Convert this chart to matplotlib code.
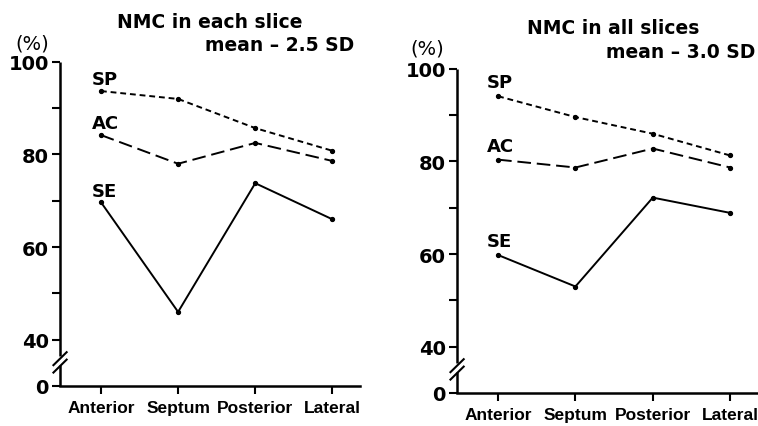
"""
NMC per region: two panels (each slice / all slices), broken y axis at 0-40.
Output: out.png
"""

import matplotlib.pyplot as plt

plt.rcParams["font.family"] = ["DejaVu Sans"]
plt.rcParams["font.weight"] = "bold"

# ── Data ──────────────────────────────────────────────────────────────────────

REGIONS = ["Anterior", "Septum", "Posterior", "Lateral"]

EACH_SP = [93.7, 92.0, 85.7, 80.8]
EACH_AC = [84.2, 78.0, 82.5, 78.6]
EACH_SE = [69.7, 46.0, 73.8, 66.0]

ALL_SP = [94.1, 89.6, 86.0, 81.3]
ALL_AC = [80.4, 78.7, 82.8, 78.7]
ALL_SE = [59.8, 53.0, 72.2, 68.9]

Y_TICK_POS    = [30, 40, 60, 80, 100]
Y_TICK_LABELS = ["0", "40", "60", "80", "100"]
Y_MINOR       = [50, 70, 90]

PANELS = [
    {"title": "NMC in each slice", "sub": "mean \u2013 2.5 SD",
     "sp": EACH_SP, "ac": EACH_AC, "se": EACH_SE,
     "rect": [0.0792, 0.0937, 0.396, 0.759],
     "lab_y": {"SP": 96.3, "AC": 86.8, "SE": 72.1}, "lab_x": -0.12},
    {"title": "NMC in all slices", "sub": "mean \u2013 3.0 SD",
     "sp": ALL_SP, "ac": ALL_AC, "se": ALL_SE,
     "rect": [0.603, 0.0773, 0.397, 0.759],
     "lab_y": {"SP": 97.2, "AC": 83.3, "SE": 62.8}, "lab_x": -0.15},
]

NARROW = ["Liberation Sans", "DejaVu Sans"]


def draw_panel(fig, p):
    ax = fig.add_axes(p["rect"])
    x = range(len(REGIONS))

    ax.plot(x, p["sp"], color="black", lw=1.4, ls=(0, (3, 2)),
            marker="o", ms=2.8)
    ax.plot(x, p["ac"], color="black", lw=1.4, ls=(0, (7, 3)),
            marker="o", ms=2.8)
    ax.plot(x, p["se"], color="black", lw=1.4, ls="-",
            marker="o", ms=2.8)

    for name, yv in p["lab_y"].items():
        ax.text(p["lab_x"], yv, name, fontsize=13, fontweight="bold",
                ha="left", va="center")

    ax.set_xlim(-0.53, 3.36)
    ax.set_ylim(30, 100)
    ax.set_xticks(list(x))
    ax.set_xticklabels(REGIONS, fontsize=12.5, fontweight="bold",
                       family=NARROW)
    ax.set_yticks(Y_TICK_POS)
    ax.set_yticklabels(Y_TICK_LABELS, fontsize=14, fontweight="bold")
    ax.set_yticks(Y_MINOR, minor=True)
    ax.tick_params(axis="both", which="both", direction="out",
                   length=6, width=1.5, pad=2)
    ax.tick_params(axis="x", pad=4)

    for side in ("top", "right", "left"):
        ax.spines[side].set_visible(False)
    ax.spines["bottom"].set_linewidth(1.8)

    # y axis drawn by hand with a break between 0 and 40
    tr = ax.get_yaxis_transform()
    ax.plot([0, 0], [30, 34.6], color="black", lw=1.8, transform=tr,
            clip_on=False, solid_capstyle="butt")
    ax.plot([0, 0], [36.4, 100], color="black", lw=1.8, transform=tr,
            clip_on=False, solid_capstyle="butt")
    for dy in (34.3, 35.9):
        ax.plot([-0.022, 0.022], [dy - 1.4, dy + 1.4], color="black",
                lw=1.5, transform=tr, clip_on=False)

    return ax


def main():
    fig = plt.figure(figsize=(7.58, 4.27), dpi=100)
    draw_panel(fig, PANELS[0])
    draw_panel(fig, PANELS[1])

    fig.text(0.277, 0.948, PANELS[0]["title"], fontsize=13.5,
             fontweight="bold", ha="center", va="center")
    fig.text(0.468, 0.893, PANELS[0]["sub"], fontsize=13.5,
             fontweight="bold", ha="right", va="center")
    fig.text(0.042, 0.897, "(%)", fontsize=14, fontweight="normal",
             ha="center", va="center")

    fig.text(0.809, 0.934, PANELS[1]["title"], fontsize=13.5,
             fontweight="bold", ha="center", va="center")
    fig.text(0.997, 0.876, PANELS[1]["sub"], fontsize=13.5,
             fontweight="bold", ha="right", va="center")
    fig.text(0.563, 0.886, "(%)", fontsize=14, fontweight="normal",
             ha="center", va="center")

    fig.savefig("out.png", dpi=100)
    plt.close(fig)


if __name__ == "__main__":
    main()
